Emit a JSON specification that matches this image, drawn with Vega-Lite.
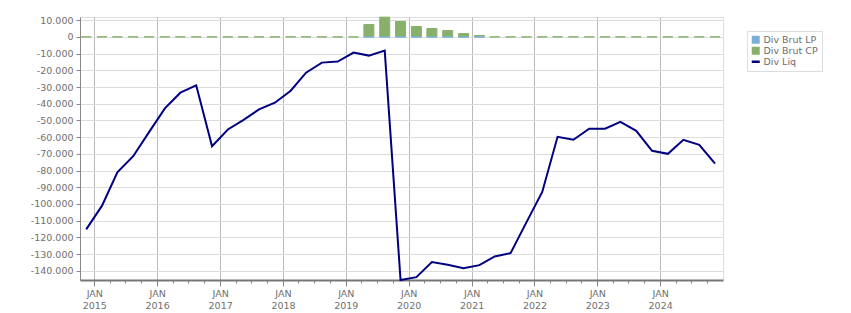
{
  "$schema": "https://vega.github.io/schema/vega-lite/v6.json",
  "autosize": "none",
  "width": 643,
  "height": 263,
  "padding": {"left": 80, "top": 17, "right": 128, "bottom": 33},
  "background": "white",
  "config": {
    "font": "DejaVu Sans",
    "view": {"stroke": "#dddddd", "strokeWidth": 1},
    "axis": {
      "labelFont": "DejaVu Sans",
      "labelFontSize": 9.5,
      "labelColor": "#707070",
      "tickColor": "#888888",
      "domainColor": "#888888",
      "title": null
    },
    "axisY": {
      "labelOverlap": false,
      "labelBound": false,
      "labelSeparation": 0
    }
  },
  "datasets": {
    "bars": [
      {"date": "2014-11-15", "series": "Div Brut CP", "value": 0},
      {"date": "2015-02-15", "series": "Div Brut CP", "value": 0},
      {"date": "2015-05-15", "series": "Div Brut CP", "value": 0},
      {"date": "2015-08-15", "series": "Div Brut CP", "value": 0},
      {"date": "2015-11-15", "series": "Div Brut CP", "value": 0},
      {"date": "2016-02-15", "series": "Div Brut CP", "value": 0},
      {"date": "2016-05-15", "series": "Div Brut CP", "value": 0},
      {"date": "2016-08-15", "series": "Div Brut CP", "value": 0},
      {"date": "2016-11-15", "series": "Div Brut CP", "value": 0},
      {"date": "2017-02-15", "series": "Div Brut CP", "value": 0},
      {"date": "2017-05-15", "series": "Div Brut CP", "value": 0},
      {"date": "2017-08-15", "series": "Div Brut CP", "value": 0},
      {"date": "2017-11-15", "series": "Div Brut CP", "value": 0},
      {"date": "2018-02-15", "series": "Div Brut CP", "value": 0},
      {"date": "2018-05-15", "series": "Div Brut CP", "value": 0},
      {"date": "2018-08-15", "series": "Div Brut CP", "value": 0},
      {"date": "2018-11-15", "series": "Div Brut CP", "value": 0},
      {"date": "2019-02-15", "series": "Div Brut CP", "value": 0},
      {"date": "2019-05-15", "series": "Div Brut CP", "value": 7400},
      {"date": "2019-08-15", "series": "Div Brut CP", "value": 11800},
      {"date": "2019-11-15", "series": "Div Brut CP", "value": 9200},
      {"date": "2020-02-15", "series": "Div Brut CP", "value": 6200},
      {"date": "2020-05-15", "series": "Div Brut CP", "value": 5000},
      {"date": "2020-08-15", "series": "Div Brut CP", "value": 3800},
      {"date": "2020-11-15", "series": "Div Brut CP", "value": 2000},
      {"date": "2021-02-15", "series": "Div Brut CP", "value": 800},
      {"date": "2021-05-15", "series": "Div Brut CP", "value": 0},
      {"date": "2021-08-15", "series": "Div Brut CP", "value": 0},
      {"date": "2021-11-15", "series": "Div Brut CP", "value": 0},
      {"date": "2022-02-15", "series": "Div Brut CP", "value": 0},
      {"date": "2022-05-15", "series": "Div Brut CP", "value": 0},
      {"date": "2022-08-15", "series": "Div Brut CP", "value": 0},
      {"date": "2022-11-15", "series": "Div Brut CP", "value": 0},
      {"date": "2023-02-15", "series": "Div Brut CP", "value": 0},
      {"date": "2023-05-15", "series": "Div Brut CP", "value": 0},
      {"date": "2023-08-15", "series": "Div Brut CP", "value": 0},
      {"date": "2023-11-15", "series": "Div Brut CP", "value": 0},
      {"date": "2024-02-15", "series": "Div Brut CP", "value": 0},
      {"date": "2024-05-15", "series": "Div Brut CP", "value": 0},
      {"date": "2024-08-15", "series": "Div Brut CP", "value": 0},
      {"date": "2024-11-15", "series": "Div Brut CP", "value": 0},
      {"date": "2019-05-15", "series": "Div Brut LP", "value": 0},
      {"date": "2019-08-15", "series": "Div Brut LP", "value": 0},
      {"date": "2019-11-15", "series": "Div Brut LP", "value": 0},
      {"date": "2020-02-15", "series": "Div Brut LP", "value": 0},
      {"date": "2020-05-15", "series": "Div Brut LP", "value": 0},
      {"date": "2020-08-15", "series": "Div Brut LP", "value": 0},
      {"date": "2020-11-15", "series": "Div Brut LP", "value": 0},
      {"date": "2021-02-15", "series": "Div Brut LP", "value": 0}
    ],
    "line": [
      {"date": "2014-11-15", "series": "Div Liq", "value": -115200},
      {"date": "2015-02-15", "series": "Div Liq", "value": -101000},
      {"date": "2015-05-15", "series": "Div Liq", "value": -81000},
      {"date": "2015-08-15", "series": "Div Liq", "value": -71400},
      {"date": "2015-11-15", "series": "Div Liq", "value": -57000},
      {"date": "2016-02-15", "series": "Div Liq", "value": -42800},
      {"date": "2016-05-15", "series": "Div Liq", "value": -33400},
      {"date": "2016-08-15", "series": "Div Liq", "value": -29000},
      {"date": "2016-11-15", "series": "Div Liq", "value": -65400},
      {"date": "2017-02-15", "series": "Div Liq", "value": -55400},
      {"date": "2017-05-15", "series": "Div Liq", "value": -49800},
      {"date": "2017-08-15", "series": "Div Liq", "value": -43400},
      {"date": "2017-11-15", "series": "Div Liq", "value": -39400},
      {"date": "2018-02-15", "series": "Div Liq", "value": -32200},
      {"date": "2018-05-15", "series": "Div Liq", "value": -21400},
      {"date": "2018-08-15", "series": "Div Liq", "value": -15400},
      {"date": "2018-11-15", "series": "Div Liq", "value": -14800},
      {"date": "2019-02-15", "series": "Div Liq", "value": -9400},
      {"date": "2019-05-15", "series": "Div Liq", "value": -11200},
      {"date": "2019-08-15", "series": "Div Liq", "value": -8200},
      {"date": "2019-11-15", "series": "Div Liq", "value": -145500},
      {"date": "2020-02-15", "series": "Div Liq", "value": -143800},
      {"date": "2020-05-15", "series": "Div Liq", "value": -134800},
      {"date": "2020-08-15", "series": "Div Liq", "value": -136400},
      {"date": "2020-11-15", "series": "Div Liq", "value": -138400},
      {"date": "2021-02-15", "series": "Div Liq", "value": -136600},
      {"date": "2021-05-15", "series": "Div Liq", "value": -131400},
      {"date": "2021-08-15", "series": "Div Liq", "value": -129400},
      {"date": "2021-11-15", "series": "Div Liq", "value": -111000},
      {"date": "2022-02-15", "series": "Div Liq", "value": -92800},
      {"date": "2022-05-15", "series": "Div Liq", "value": -59800},
      {"date": "2022-08-15", "series": "Div Liq", "value": -61600},
      {"date": "2022-11-15", "series": "Div Liq", "value": -55000},
      {"date": "2023-02-15", "series": "Div Liq", "value": -55000},
      {"date": "2023-05-15", "series": "Div Liq", "value": -50800},
      {"date": "2023-08-15", "series": "Div Liq", "value": -56200},
      {"date": "2023-11-15", "series": "Div Liq", "value": -68200},
      {"date": "2024-02-15", "series": "Div Liq", "value": -70000},
      {"date": "2024-05-15", "series": "Div Liq", "value": -61600},
      {"date": "2024-08-15", "series": "Div Liq", "value": -64600},
      {"date": "2024-11-15", "series": "Div Liq", "value": -75800}
    ]
  },
  "encoding": {
    "x": {
      "field": "date",
      "type": "temporal",
      "scale": {
        "type": "utc",
        "padding": 0,
        "domain": [1412899200000, 1735603200000]
      },
      "axis": {
        "tickCount": {"interval": "month", "step": 3},
        "labelExpr": "utcmonth(datum.value) === 0 ? ['JAN', utcFormat(datum.value, '%Y')] : ''",
        "labelOverlap": false,
        "labelLineHeight": 12,
        "labelPadding": 2,
        "labelFontSize": 9.5,
        "labelAlign": "center",
        "domainColor": "#777777",
        "domainWidth": 2,
        "tickSize": {"condition": {"test": "utcmonth(datum.value) === 0", "value": 6}, "value": 3},
        "tickColor": "#888888",
        "grid": true,
        "gridColor": "#bbbbbb",
        "gridOpacity": {"condition": {"test": "utcmonth(datum.value) === 0", "value": 1}, "value": 0}
      }
    },
    "y": {
      "field": "value",
      "type": "quantitative",
      "stack": null,
      "scale": {"domain": [-145500, 11900], "nice": false, "zero": false},
      "axis": {
        "values": [10000, 0, -10000, -20000, -30000, -40000, -50000, -60000, -70000, -80000, -90000, -100000, -110000, -120000, -130000, -140000],
        "labelExpr": "replace(replace(format(datum.value, ','), ',', '.'), '\u2212', '-')",
        "labelOverlap": false,
        "labelBound": false,
        "tickSize": 4,
        "labelPadding": 3,
        "gridColor": "#dddddd",
        "domainColor": "#888888"
      }
    }
  },
  "layer": [
    {
      "data": {"name": "bars"},
      "mark": {"type": "bar", "width": 10, "strokeWidth": 1},
      "encoding": {
        "color": {
          "field": "series",
          "type": "nominal",
          "scale": {
            "domain": ["Div Brut LP", "Div Brut CP", "Div Liq"],
            "range": ["#7ab0d6", "#89b06b", "#000080"]
          },
          "legend": {
            "title": null,
            "orient": "none",
            "legendX": 667,
            "legendY": 14,
            "strokeColor": "#dddddd",
            "padding": 4,
            "symbolSize": 64,
            "symbolType": {"expr": "datum.value === 'Div Liq' ? 'stroke' : 'square'"},
            "symbolStrokeWidth": {"expr": "datum.value === 'Div Liq' ? 2.5 : 0"},
            "labelFont": "DejaVu Sans",
            "labelFontSize": 9.5,
            "labelColor": "#6e6e6e",
            "labelOffset": 3,
            "rowPadding": 0
          }
        },
        "stroke": {
          "field": "series",
          "type": "nominal",
          "scale": {
            "domain": ["Div Brut LP", "Div Brut CP", "Div Liq"],
            "range": ["#7ab0d6", "#89b06b", "#000080"]
          },
          "legend": null
        }
      }
    },
    {
      "data": {"name": "line"},
      "mark": {"type": "line", "strokeWidth": 2},
      "encoding": {
        "color": {"field": "series", "type": "nominal"}
      }
    }
  ]
}
